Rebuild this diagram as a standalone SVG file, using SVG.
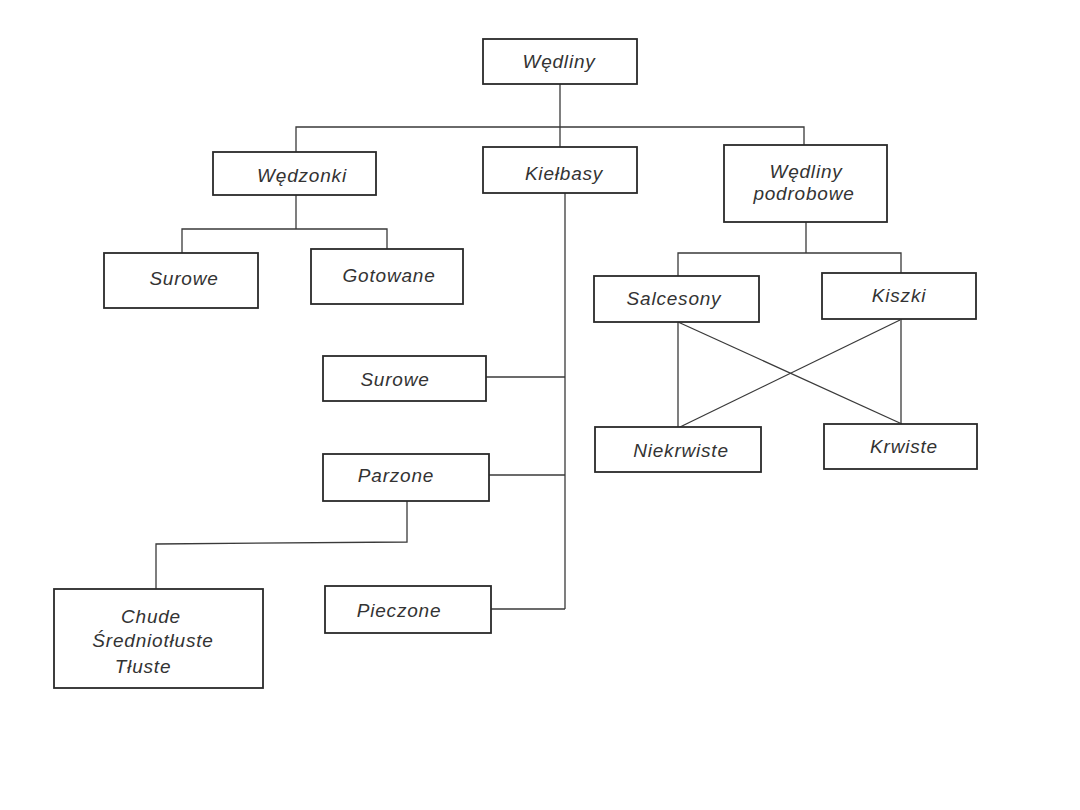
<svg xmlns="http://www.w3.org/2000/svg" width="1080" height="810" viewBox="0 0 1080 810">
<style>
.box{fill:#fff;stroke:#2a2a2a;stroke-width:1.8}
.ln{fill:none;stroke:#3a3a3a;stroke-width:1.3}
text{font-family:"Liberation Sans",Arial,sans-serif;font-style:italic;font-size:19px;fill:#333;text-anchor:middle;letter-spacing:0.8px}
</style>
<rect width="1080" height="810" fill="#fff"/>
<g id="connectors">
<path class="ln" d="M560 84V147"/>
<path class="ln" d="M296 152V127H804V145"/>
<path class="ln" d="M296 195V229"/>
<path class="ln" d="M182 253V229H387V249"/>
<path class="ln" d="M565 193V609"/>
<path class="ln" d="M486 377H565"/>
<path class="ln" d="M489 475H565"/>
<path class="ln" d="M491 609H565"/>
<path class="ln" d="M407 501V542L156 544V589"/>
<path class="ln" d="M806 222V253"/>
<path class="ln" d="M678 276V253H901V273"/>
<path class="ln" d="M678 322V427"/>
<path class="ln" d="M901 319V424"/>
<path class="ln" d="M678 322L902 424"/>
<path class="ln" d="M900 320L680 427"/>
</g>
<g id="wedliny"><rect class="box" x="483" y="39" width="154" height="45"/><text x="559" y="68">Wędliny</text></g>
<g id="wedzonki"><rect class="box" x="213" y="152" width="163" height="43"/><text x="302" y="182">Wędzonki</text></g>
<g id="kielbasy"><rect class="box" x="483" y="147" width="154" height="46"/><text x="564" y="180">Kiełbasy</text></g>
<g id="wedliny-podrobowe"><rect class="box" x="724" y="145" width="163" height="77"/><text x="806" y="178">Wędliny</text><text x="804" y="200">podrobowe</text></g>
<g id="wedzonki-surowe"><rect class="box" x="104" y="253" width="154" height="55"/><text x="184" y="285">Surowe</text></g>
<g id="gotowane"><rect class="box" x="311" y="249" width="152" height="55"/><text x="389" y="282">Gotowane</text></g>
<g id="salcesony"><rect class="box" x="594" y="276" width="165" height="46"/><text x="674" y="305">Salcesony</text></g>
<g id="kiszki"><rect class="box" x="822" y="273" width="154" height="46"/><text x="899" y="302">Kiszki</text></g>
<g id="niekrwiste"><rect class="box" x="595" y="427" width="166" height="45"/><text x="681" y="457">Niekrwiste</text></g>
<g id="krwiste"><rect class="box" x="824" y="424" width="153" height="45"/><text x="904" y="453">Krwiste</text></g>
<g id="kielbasy-surowe"><rect class="box" x="323" y="356" width="163" height="45"/><text x="395" y="386">Surowe</text></g>
<g id="parzone"><rect class="box" x="323" y="454" width="166" height="47"/><text x="396" y="482">Parzone</text></g>
<g id="pieczone"><rect class="box" x="325" y="586" width="166" height="47"/><text x="399" y="617">Pieczone</text></g>
<g id="chude"><rect class="box" x="54" y="589" width="209" height="99"/><text x="151" y="623">Chude</text><text x="153" y="647">Średniotłuste</text><text x="143" y="673">Tłuste</text></g>
</svg>
